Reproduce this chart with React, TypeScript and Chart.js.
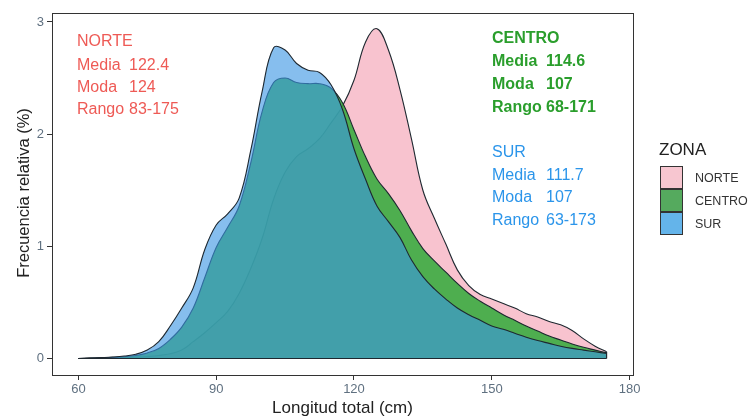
import { useEffect, useRef } from "react";
import { Chart, registerables } from "chart.js";

Chart.register(...registerables);

// Total length grid (cm) on which the densities are evaluated
const lengthsCm = [
  60, 62.5, 65, 67.5, 70, 72.5, 75, 77.5, 80, 82.5, 85, 87.5, 90, 92.5, 95, 97.5,
  100, 102.5, 105, 107.5, 110, 112.5, 115, 117.5, 120, 122.5, 125, 127.5, 130,
  132.5, 135, 137.5, 140, 142.5, 145, 147.5, 150, 152.5, 155, 157.5, 160, 162.5,
  165, 167.5, 170, 172.5, 175,
];

// Relative frequency (%) per zone
const norte = [
  0, 0.001, 0.002, 0.004, 0.007, 0.012, 0.018, 0.027, 0.042, 0.075, 0.15, 0.23,
  0.32, 0.42, 0.58, 0.8, 1.07, 1.42, 1.66, 1.8, 1.87, 1.96, 2.1, 2.25, 2.48, 2.82,
  2.94, 2.75, 2.4, 1.96, 1.5, 1.25, 1.02, 0.79, 0.65, 0.57, 0.53, 0.49, 0.45, 0.4,
  0.37, 0.33, 0.3, 0.25, 0.175, 0.11, 0.06,
];
const centro = [
  0, 0.003, 0.006, 0.01, 0.016, 0.027, 0.05, 0.09, 0.17, 0.28, 0.45, 0.72, 0.99,
  1.17, 1.36, 1.74, 2.2, 2.46, 2.5, 2.46, 2.45, 2.45, 2.41, 2.28, 2.04, 1.8, 1.6,
  1.47, 1.32, 1.14, 0.98, 0.87, 0.77, 0.67, 0.58, 0.51, 0.45, 0.39, 0.34, 0.29,
  0.245, 0.2, 0.165, 0.13, 0.1, 0.075, 0.05,
];
const sur = [
  0, 0.004, 0.008, 0.013, 0.022, 0.038, 0.075, 0.15, 0.29, 0.45, 0.63, 0.97, 1.19,
  1.29, 1.43, 1.85, 2.38, 2.77, 2.75, 2.63, 2.57, 2.55, 2.44, 2.22, 1.87, 1.6,
  1.36, 1.22, 1.08, 0.88, 0.73, 0.62, 0.53, 0.45, 0.39, 0.34, 0.29, 0.26, 0.225,
  0.19, 0.16, 0.135, 0.11, 0.09, 0.075, 0.06, 0.045,
];

const xTicks = [60, 90, 120, 150, 180];
const yTicks = [0, 1, 2, 3];

const zones = ["NORTE", "CENTRO", "SUR"];
const statLabels = ["Media", "Moda", "Rango"];
const norteStats = ["122.4", "124", "83-175"];
const centroStats = ["114.6", "107", "68-171"];
const surStats = ["111.7", "107", "63-173"];

const FONT = '"Liberation Sans", Arial, sans-serif';

const fillColors = [
  "rgba(248,192,204,0.95)",
  "rgba(55,172,62,0.88)",
  "rgba(60,150,228,0.62)",
];
const legendColors = ["#f7c6d0", "#55aa5e", "#64b4ea"];
const outline = "#1e2830";

const overlay = {
  id: "overlay",
  afterDatasetsDraw(chart: any) {
    const { ctx, scales } = chart;
    const xs = scales.x;
    const ys = scales.y;
    const y0 = ys.getPixelForValue(0);
    const xStart = xs.getPixelForValue(lengthsCm[0]);
    const xEnd = xs.getPixelForValue(lengthsCm[lengthsCm.length - 1]);
    ctx.save();
    ctx.strokeStyle = outline;
    ctx.lineWidth = 1.2;
    ctx.beginPath();
    ctx.moveTo(xStart, y0);
    ctx.lineTo(xEnd, y0);
    [norte, centro, sur].forEach((s) => {
      ctx.moveTo(xEnd, y0);
      ctx.lineTo(xEnd, ys.getPixelForValue(s[s.length - 1]));
    });
    ctx.stroke();
    ctx.restore();
  },
  afterDraw(chart: any) {
    const { ctx, chartArea } = chart;
    ctx.save();
    // panel border
    ctx.strokeStyle = "#333";
    ctx.lineWidth = 1;
    ctx.strokeRect(
      Math.round(chartArea.left) + 0.5,
      Math.round(chartArea.top) + 0.5,
      Math.round(chartArea.right - chartArea.left),
      Math.round(chartArea.bottom - chartArea.top)
    );

    // summary statistics per zone
    const block = (
      title: string,
      values: string[],
      color: string,
      weight: string,
      x: number,
      vx: number,
      ys: number[]
    ) => {
      ctx.fillStyle = color;
      ctx.font = `${weight} 16px ${FONT}`;
      ctx.textAlign = "left";
      ctx.textBaseline = "middle";
      ctx.fillText(title, x, ys[0]);
      statLabels.forEach((lab, i) => {
        ctx.fillText(lab, x, ys[i + 1]);
        ctx.fillText(values[i], vx, ys[i + 1]);
      });
    };
    block(zones[0], norteStats, "#ee5a55", "normal", 77, 129, [42, 66, 88, 110]);
    block(zones[1], centroStats, "#2a9e2c", "bold", 492, 546, [39, 62, 85, 108]);
    block(zones[2], surStats, "#2b95ea", "normal", 492, 546, [153, 176, 198, 221]);

    // legend
    ctx.fillStyle = "#222";
    ctx.font = `17px ${FONT}`;
    ctx.textAlign = "left";
    ctx.textBaseline = "middle";
    ctx.fillText("ZONA", 659, 150);
    zones.forEach((z, i) => {
      const top = 166 + i * 23;
      ctx.fillStyle = legendColors[i];
      ctx.fillRect(660, top, 23, 23);
      ctx.strokeStyle = "#333";
      ctx.lineWidth = 1;
      ctx.strokeRect(660.5, top + 0.5, 22, 22);
      ctx.fillStyle = "#333";
      ctx.font = `12.5px ${FONT}`;
      ctx.fillText(z, 695, top + 12.5);
    });

    // axis titles
    ctx.fillStyle = "#222";
    ctx.font = `17px ${FONT}`;
    ctx.textAlign = "center";
    ctx.fillText("Longitud total (cm)", (chartArea.left + chartArea.right) / 2, 408);
    ctx.save();
    ctx.translate(24, 193);
    ctx.rotate(-Math.PI / 2);
    ctx.font = `16.5px ${FONT}`;
    ctx.fillText("Frecuencia relativa (%)", 0, 0);
    ctx.restore();
    ctx.restore();
  },
};

export default function App() {
  const canvasRef = useRef<HTMLCanvasElement | null>(null);

  useEffect(() => {
    if (!canvasRef.current) return;
    const series = [norte, centro, sur];
    const chart = new Chart(canvasRef.current, {
      type: "line",
      data: {
        datasets: zones.map((z, i) => ({
          label: z,
          data: lengthsCm.map((x, j) => ({ x, y: series[i][j] })),
          borderColor: outline,
          borderWidth: 1.1,
          backgroundColor: fillColors[i],
          fill: "origin",
          pointRadius: 0,
          tension: 0.4,
          order: 3 - i,
        })),
      },
      options: {
        animation: false,
        responsive: false,
        maintainAspectRatio: false,
        layout: { padding: { top: 13, right: 121, left: 0, bottom: 0 } },
        plugins: {
          legend: { display: false },
          tooltip: { enabled: false },
        },
        scales: {
          x: {
            type: "linear",
            min: 54.25,
            max: 180.75,
            afterBuildTicks: (s: any) => {
              s.ticks = xTicks.map((v) => ({ value: v }));
            },
            afterFit: (s: any) => {
              s.height = 45;
            },
            grid: { drawOnChartArea: false, drawTicks: true, tickLength: 5, color: "#333" },
            border: { color: "#333", width: 1 },
            ticks: {
              font: { family: FONT, size: 13 },
              color: "#5f7080",
              padding: 2,
              maxRotation: 0,
            },
          },
          y: {
            type: "linear",
            min: -0.147,
            max: 3.08,
            afterBuildTicks: (s: any) => {
              s.ticks = yTicks.map((v) => ({ value: v }));
            },
            afterFit: (s: any) => {
              s.width = 52;
            },
            grid: { drawOnChartArea: false, drawTicks: true, tickLength: 5, color: "#333" },
            border: { color: "#333", width: 1 },
            ticks: {
              font: { family: FONT, size: 13 },
              color: "#5f7080",
              padding: 3,
            },
          },
        },
      },
      plugins: [overlay],
    });
    return () => chart.destroy();
  }, []);

  return (
    <div style={{ position: "absolute", left: 0, top: 0, width: 754, height: 420, background: "#fff" }}>
      <canvas ref={canvasRef} width={754} height={420} style={{ width: 754, height: 420 }} />
    </div>
  );
}
